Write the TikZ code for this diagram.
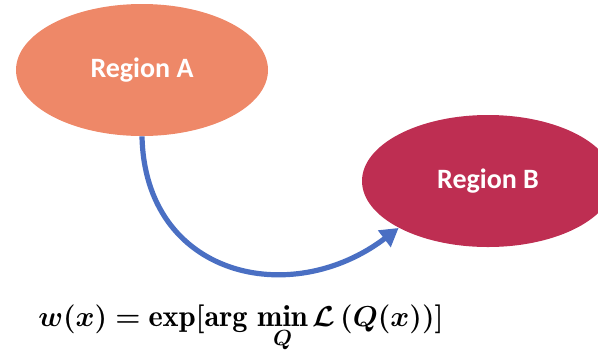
\documentclass[tikz,border=0pt]{standalone}
\usepackage{amsmath}
\usepackage{bm}
\usepackage{fontspec}
\setsansfont{Carlito}
\usetikzlibrary{arrows.meta,shapes.geometric}
\definecolor{regionorange}{HTML}{EE8868}
\definecolor{regioncrimson}{HTML}{BE2E52}
\definecolor{flowblue}{HTML}{4A6FC3}

\begin{document}
\begin{tikzpicture}[
    x=0.5pt, y=-0.5pt,
    region/.style={
        ellipse,
        minimum width=126pt,
        minimum height=66pt,
        inner sep=0pt,
        text=white,
        font=\sffamily\bfseries\fontsize{14}{16}\selectfont
    },
    formula/.style={
        anchor=base,
        inner sep=0pt,
        font=\fontsize{15.2}{18}\selectfont
    },
    flow/.style={-{Triangle[length=9pt,width=10pt]}, line width=2.6pt, draw=flowblue}
]
\useasboundingbox (0,0) rectangle (598,349);
\clip (0,0) rectangle (598,349);

\node[region, fill=regionorange] (regA) at (142,70) {Region A};
\node[region, fill=regioncrimson] (regB) at (488,181) {Region B};

\node[formula] (weight) at (241,326) {$\displaystyle \bm{w}\bm{(}\bm{x}\bm{)} \bm{=} \mathbf{exp}\bm{[}\mathbf{arg}\,\mathop{\mathbf{min}}\limits_{\bm{Q}} \bm{\mathcal{L}}\,\bm{(}\bm{Q}\bm{(}\bm{x}\bm{)}\bm{)}\bm{]}$};

\draw[flow] (regA.south) .. controls +(3,140) and +(-108,82) .. (regB.south west);

\end{tikzpicture}
\end{document}
